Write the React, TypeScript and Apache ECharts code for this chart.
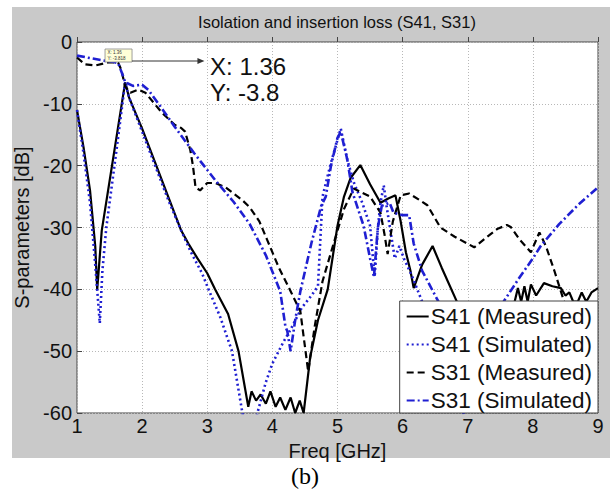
import React, { useEffect, useRef } from "react";
import * as echarts from "echarts";

const titleText = "Isolation and insertion loss (S41, S31)";
const xName = "Freq [GHz]";
const yName = "S-parameters [dB]";
const captionText = "(b)";
const seriesNames = ["S41 (Measured)", "S41 (Simulated)", "S31 (Measured)", "S31 (Simulated)"];

const s41MeasFreq = [1.0, 1.1, 1.2, 1.28, 1.31, 1.34, 1.38, 1.5, 1.62, 1.74, 1.8, 2.0, 2.2, 2.4, 2.6, 2.71, 2.85, 3.0, 3.12, 3.32, 3.48, 3.58, 3.63, 3.68, 3.75, 3.82, 3.9, 3.97, 4.05, 4.12, 4.2, 4.28, 4.35, 4.42, 4.48, 4.58, 4.7, 4.85, 5.0, 5.1, 5.2, 5.35, 5.5, 5.66, 5.78, 5.89, 5.97, 6.05, 6.12, 6.17, 6.3, 6.46, 6.6, 6.85, 7.0, 7.3, 7.6, 7.72, 7.77, 7.82, 7.87, 7.92, 7.97, 8.05, 8.17, 8.3, 8.43, 8.5, 8.56, 8.62, 8.69, 8.75, 8.82, 8.9, 9.0];
const s41MeasDb = [-11, -17, -24, -33, -40, -36, -30.5, -22.5, -14.5, -6.5, -9, -14, -19.5, -25, -30.5, -32.6, -35, -37.4, -40, -44, -50, -56, -59, -56.5, -58, -57, -58.5, -56.5, -59, -57.5, -59.5, -57.5, -60, -58, -60, -51, -45, -40, -29.7, -25, -22, -19.9, -23, -26, -25.3, -24.8, -29, -34, -37, -39.8, -36, -33, -36.5, -42.4, -46, -48, -46, -42, -39.8, -42, -39.5, -42, -39.2, -41, -39, -39.5, -39.8, -41, -40.5, -42, -42, -40.5, -42, -40.5, -39.8];

const s41SimFreq = [1.0, 1.1, 1.2, 1.28, 1.35, 1.39, 1.45, 1.6, 1.74, 1.8, 2.0, 2.2, 2.4, 2.6, 2.75, 2.92, 3.02, 3.2, 3.38, 3.46, 3.54, 3.6, 3.7, 3.77, 3.9, 4.0, 4.17, 4.28, 4.45, 4.6, 4.7, 4.77, 4.89, 5.05, 5.15, 5.25, 5.38, 5.5, 5.57, 5.62, 5.66, 5.71, 5.76, 5.82, 5.88, 5.95, 6.02, 6.15, 6.3, 6.5, 6.8, 7.0];
const s41SimDb = [-11, -18, -26, -36, -45.5, -37, -30, -18, -6.5, -9, -14.5, -20, -25.5, -30.5, -34, -37.4, -40, -44.5, -50, -55, -60, -63, -64, -60, -55, -52, -48.5, -46.5, -43, -41, -39.5, -25, -19.9, -14, -19, -22.7, -26, -29.7, -38, -30, -26, -23.2, -27, -31, -35, -33, -35, -38, -42, -48, -56, -62];

const s31MeasFreq = [1.0, 1.12, 1.28, 1.48, 1.63, 1.68, 1.74, 1.82, 1.94, 2.05, 2.3, 2.5, 2.6, 2.66, 2.74, 2.78, 2.82, 2.89, 3.0, 3.12, 3.28, 3.54, 3.65, 3.8, 3.92, 4.1, 4.28, 4.43, 4.55, 4.65, 4.77, 4.94, 5.1, 5.25, 5.5, 5.66, 5.72, 5.77, 5.85, 5.97, 6.1, 6.25, 6.38, 6.58, 6.8, 7.1, 7.3, 7.46, 7.6, 7.66, 7.8, 7.97, 8.1, 8.2, 8.33, 8.48, 8.6, 8.8, 9.0];
const s31MeasDb = [-2.5, -3.6, -3.8, -3.3, -3.3, -4.5, -7.2, -8.2, -7.7, -8.2, -11.4, -13.4, -13.9, -14.5, -17.5, -20, -23.5, -24, -22.8, -22.8, -23.5, -25.6, -26.7, -29, -32, -36.5, -40.3, -43.6, -53.3, -46, -38.7, -32.6, -27, -23.7, -25, -27.6, -31, -34.3, -29, -24.8, -24.5, -25.5, -26.4, -30, -31.5, -33.2, -31.5, -30.2, -29.6, -29.9, -32, -34, -30.8, -33, -37, -42, -46, -50, -52];

const s31SimFreq = [1.0, 1.2, 1.4, 1.55, 1.63, 1.69, 1.74, 1.86, 2.0, 2.1, 2.3, 2.5, 2.8, 3.12, 3.4, 3.65, 3.9, 4.12, 4.2, 4.23, 4.28, 4.35, 4.43, 4.6, 4.75, 4.82, 4.9, 5.0, 5.05, 5.15, 5.23, 5.4, 5.5, 5.56, 5.62, 5.68, 5.8, 5.86, 6.0, 6.1, 6.17, 6.3, 6.55, 6.75, 6.95, 7.15, 7.35, 7.55, 7.8, 8.0, 8.12, 8.4, 8.7, 9.0];
const s31SimDb = [-2.2, -2.6, -3.0, -3.2, -3.4, -5, -6.5, -7.1, -6.9, -7.8, -10.7, -13.7, -18, -22.3, -25.8, -29.4, -34.5, -40.3, -46, -46.8, -50, -45, -40.3, -32.5, -26.5, -25, -20, -15.5, -14.5, -19, -24.3, -29.7, -35, -38, -30, -26.5, -26, -27.6, -28, -28, -32.6, -37, -42, -48, -53, -55, -48.5, -42, -38, -35, -33, -29.5, -26.3, -23.5];

const datatipPoint = [1.36, -3.818];
const datatipLines = ["X: 1.36", "Y: -3.818"];
const calloutLines = ["X: 1.36", "Y: -3.8"];

const BLUE = "#1f1fd2";
const BLACK = "#000000";

export default function App() {
  const ref = useRef<HTMLDivElement>(null);
  useEffect(() => {
    const chart = echarts.init(ref.current!, null, { renderer: "svg" });
    const pairs = (f: number[], d: number[]) => f.map((x, i) => [x, d[i]]);
    const font = "Arial, 'Liberation Sans', sans-serif";
    const mk = (name: string, data: number[][], color: string, width: number, type: any) => ({
      name,
      type: "line",
      data,
      symbol: "none",
      showSymbol: false,
      clip: true,
      lineStyle: { color, width, type },
      itemStyle: { color },
      z: 3,
    });
    chart.setOption({
      animation: false,
      backgroundColor: "#c9c9c9",
      title: {
        text: titleText,
        left: 337,
        top: 13,
        padding: 0,
        textAlign: "center",
        textStyle: { fontFamily: font, fontSize: 16.5, fontWeight: "normal", color: "#111" },
      },
      grid: {
        left: 77,
        right: 12,
        top: 42,
        bottom: 78,
        show: true,
        backgroundColor: "#ffffff",
        borderColor: "#444",
        borderWidth: 1,
      },
      legend: {
        orient: "vertical",
        right: 12,
        bottom: 78,
        backgroundColor: "#ffffff",
        borderColor: "#444",
        borderWidth: 1,
        borderRadius: 0,
        padding: [4, 6, 1, 6],
        itemGap: 5,
        itemWidth: 22,
        itemHeight: 14,
        itemStyle: { opacity: 0, color: "rgba(0,0,0,0)", borderWidth: 0 },
        textStyle: { fontFamily: font, fontSize: 22.5, color: "#111", padding: [0, 0, 0, -3] },
        data: seriesNames,
      },
      xAxis: {
        type: "value",
        min: 1,
        max: 9,
        interval: 1,
        name: xName,
        nameLocation: "middle",
        nameGap: 25,
        nameTextStyle: { fontFamily: font, fontSize: 20, color: "#111" },
        axisLine: { show: false },
        axisTick: { show: true, inside: true, length: 5, lineStyle: { color: "#444" } },
        axisLabel: { fontFamily: font, fontSize: 20, color: "#111", margin: 3 },
        splitLine: { show: true, lineStyle: { color: "#b8b8b8", type: [1, 2], width: 1 } },
      },
      yAxis: {
        type: "value",
        min: -60,
        max: 0,
        interval: 10,
        name: yName,
        nameLocation: "middle",
        nameGap: 42,
        nameTextStyle: { fontFamily: font, fontSize: 20, color: "#111" },
        axisLine: { show: false },
        axisTick: { show: true, inside: true, length: 5, lineStyle: { color: "#444" } },
        axisLabel: { fontFamily: font, fontSize: 20, color: "#111", margin: 5 },
        splitLine: { show: true, lineStyle: { color: "#b8b8b8", type: [1, 2], width: 1 } },
      },
      series: [
        mk(seriesNames[0], pairs(s41MeasFreq, s41MeasDb), BLACK, 2.2, "solid"),
        mk(seriesNames[1], pairs(s41SimFreq, s41SimDb), BLUE, 2.6, [2, 3]),
        mk(seriesNames[2], pairs(s31MeasFreq, s31MeasDb), BLACK, 2.2, [7, 4]),
        mk(seriesNames[3], pairs(s31SimFreq, s31SimDb), BLUE, 2.6, [8, 3, 2, 3]),
      ],
    });

    const p = chart.convertToPixel({ gridIndex: 0 }, datatipPoint) as number[];
    const px = p[0];
    const py = p[1];
    chart.setOption({
      graphic: {
        elements: [
          { type: "rect", shape: { x: 0, y: 0, width: 12, height: 491 }, style: { fill: "#ffffff" }, silent: true, z: 0 },
          { type: "rect", shape: { x: 0, y: 0, width: 610, height: 7 }, style: { fill: "#ffffff" }, silent: true, z: 0 },
          { type: "rect", shape: { x: 0, y: 458, width: 610, height: 33 }, style: { fill: "#ffffff" }, silent: true, z: 0 },
          {
            type: "text",
            x: 305,
            y: 476,
            z: 10,
            style: {
              text: captionText,
              fontFamily: "'Liberation Serif', 'Times New Roman', serif",
              fontSize: 24,
              fill: "#000",
              textAlign: "center",
              textVerticalAlign: "middle",
            },
          },
          {
            type: "rect",
            z: 10,
            shape: { x: px + 4.6, y: py - 16.6, width: 27, height: 13 },
            style: { fill: "#ffffd8", stroke: "#888", lineWidth: 0.8 },
          },
          {
            type: "text",
            z: 11,
            x: px + 7,
            y: py - 15.5,
            style: { text: datatipLines.join("\n"), fontFamily: font, fontSize: 4.5, lineHeight: 5.5, fill: "#333" },
          },
          {
            type: "line",
            z: 10,
            shape: { x1: px + 31.6, y1: py - 4.6, x2: px + 99, y2: py - 4.6 },
            style: { stroke: "#333", lineWidth: 1 },
          },
          {
            type: "polygon",
            z: 10,
            shape: { points: [[px + 104, py - 4.6], [px + 97, py - 7.6], [px + 97, py - 1.6]] },
            style: { fill: "#333" },
          },
          {
            type: "text",
            z: 11,
            x: px + 109.6,
            y: py - 11,
            style: { text: calloutLines[0], fontFamily: font, fontSize: 24, fill: "#111" },
          },
          {
            type: "text",
            z: 11,
            x: px + 109.6,
            y: py + 15,
            style: { text: calloutLines[1], fontFamily: font, fontSize: 24, fill: "#111" },
          },
        ],
      },
    });
    return () => chart.dispose();
  }, []);
  return <div ref={ref} style={{ position: "fixed", left: 0, top: 0, width: 610, height: 491 }} />;
}
